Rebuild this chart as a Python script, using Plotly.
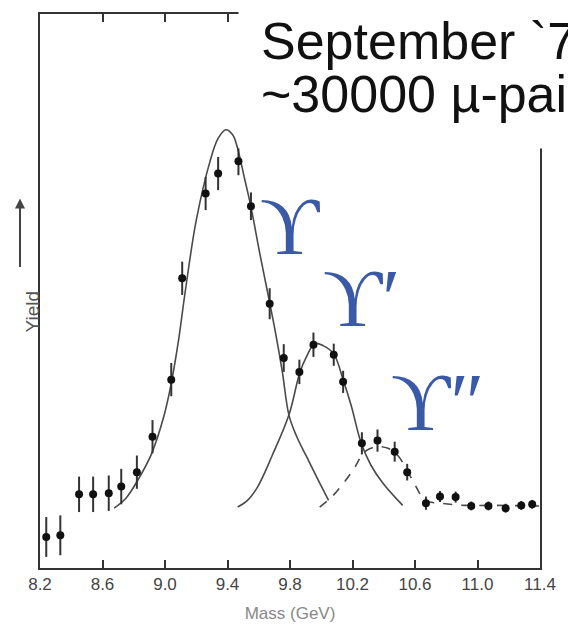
import plotly.graph_objects as go

# ---- data ----
mass = [8.24, 8.33, 8.45, 8.54, 8.64, 8.72, 8.82, 8.92, 9.04, 9.11, 9.26, 9.34,
        9.47, 9.55, 9.67, 9.76, 9.86, 9.95, 10.08, 10.14, 10.26, 10.36, 10.47,
        10.55, 10.67, 10.76, 10.86, 10.96, 11.07, 11.18, 11.28, 11.35]
yield_ = [5.6, 5.9, 13.3, 13.3, 13.5, 14.7, 17.3, 23.7, 34.0, 52.3, 67.6, 71.2,
          73.4, 65.3, 47.7, 37.9, 35.4, 40.3, 38.5, 33.6, 22.5, 23.0, 21.0,
          17.3, 11.7, 12.9, 12.8, 11.2, 11.2, 10.8, 11.3, 11.5]
err = [3.6, 3.6, 3.2, 3.2, 3.2, 3.2, 3.0, 3.0, 3.0, 3.0, 3.0, 3.0,
       2.5, 2.5, 2.8, 2.5, 2.2, 2.2, 2.0, 2.0, 2.0, 2.0, 1.8,
       1.5, 1.2, 1.0, 1.0, 0.8, 0.8, 0.8, 0.8, 0.8]

# Upsilon(1S) fitted curve
c1_x = [8.674, 8.750, 8.833, 8.915, 8.991, 9.035, 9.086, 9.130, 9.199, 9.288,
        9.339, 9.389, 9.433, 9.465, 9.509, 9.547, 9.610, 9.655, 9.705, 9.750,
        9.794, 9.845, 9.908, 9.971, 10.047]
c1_y = [10.8, 12.6, 16.2, 20.7, 27.2, 32.6, 41.0, 50.0, 62.6, 73.4,
        77.5, 79.1, 78.2, 75.7, 70.3, 65.6, 56.3, 50.0, 42.8, 35.6,
        27.5, 23.6, 20.0, 16.4, 12.2]
# Upsilon(2S) fitted curve
c2_x = [9.465, 9.528, 9.592, 9.686, 9.794, 9.863, 9.908, 9.958, 10.015, 10.079,
        10.142, 10.192, 10.256, 10.319, 10.395, 10.521]
c2_y = [11.0, 12.2, 14.6, 20.3, 27.7, 35.3, 38.3, 40.5, 40.1, 38.7,
        33.8, 29.3, 22.5, 18.5, 15.3, 11.3]
# Upsilon(3S) + continuum (dashed)
c3_x = [9.990, 10.066, 10.142, 10.211, 10.275, 10.351, 10.427, 10.490, 10.585,
        10.667, 10.762, 10.920, 11.110, 11.394]
c3_y = [11.0, 12.8, 15.3, 18.0, 20.9, 21.9, 21.6, 20.3, 15.8,
        12.2, 11.7, 11.3, 11.3, 11.2]

tick_vals = [8.2, 8.6, 9.0, 9.4, 9.8, 10.2, 10.6, 11.0, 11.4]
tick_text = ["8.2", "8.6", "9.0", "9.4", "9.8", "10.2", "10.6", "11.0", "11.4"]

curve_col = "#4a4a4a"
fig = go.Figure()
fig.add_trace(go.Scatter(x=c1_x, y=c1_y, mode="lines", line=dict(color=curve_col, width=1.6, shape="spline"), hoverinfo="skip"))
fig.add_trace(go.Scatter(x=c2_x, y=c2_y, mode="lines", line=dict(color=curve_col, width=1.6, shape="spline"), hoverinfo="skip"))
fig.add_trace(go.Scatter(x=c3_x, y=c3_y, mode="lines", line=dict(color=curve_col, width=1.6, shape="spline", dash="dash"), hoverinfo="skip"))
fig.add_trace(go.Scatter(
    x=mass, y=yield_, mode="markers",
    marker=dict(color="#111111", size=8),
    error_y=dict(type="data", array=err, color="#333333", thickness=2, width=0),
))

blue = "#3a5aa8"
sym_font = dict(family="Liberation Serif, DejaVu Serif, serif", size=82, color=blue)
fig.add_annotation(x=9.80, y=61.7, text="ϒ", showarrow=False, font=sym_font)
fig.add_annotation(x=10.26, y=48.7, text="ϒ′", showarrow=False, font=sym_font)
fig.add_annotation(x=10.745, y=29.8, text="ϒ″", showarrow=False, font=sym_font)

# white panel behind the title text
fig.add_shape(type="rect", xref="paper", yref="paper", x0=0.397, x1=1.2, y0=0.757, y1=1.1,
              fillcolor="white", line=dict(width=0), layer="above")

title_font = dict(family="Liberation Sans, Arial, sans-serif", size=52, color="#111111")
fig.add_annotation(xref="paper", yref="paper", x=0.437, y=1.008, xanchor="left", yanchor="top",
                   text="September `77", showarrow=False, font=title_font)
fig.add_annotation(xref="paper", yref="paper", x=0.437, y=0.912, xanchor="left", yanchor="top",
                   text="~30000 µ-pairs", showarrow=False, font=title_font)

# y-axis label with arrow
fig.add_annotation(xref="paper", yref="paper", x=-0.04, y=0.462, text="Yield", textangle=-90,
                   showarrow=False, font=dict(family="Liberation Sans, Arial", size=19, color="#555555"))
fig.add_annotation(xref="paper", yref="paper", x=-0.04, y=0.667, text="", showarrow=True,
                   ax=0, ay=70, arrowhead=2, arrowsize=1, arrowwidth=2, arrowcolor="#444444")

fig.update_layout(
    width=568, height=635,
    margin=dict(l=40, r=22, t=12, b=67),
    paper_bgcolor="white", plot_bgcolor="white",
    showlegend=False,
    xaxis=dict(range=[8.2, 11.4], tickvals=tick_vals, ticktext=tick_text,
               ticks="inside", ticklen=8, tickwidth=2, tickcolor="#333333",
               showline=True, linecolor="#333333", linewidth=2, mirror="ticks",
               showgrid=False, zeroline=False,
               tickfont=dict(family="Liberation Sans, Arial", size=17, color="#444444"),
               title=dict(text="Mass (GeV)", standoff=14,
                          font=dict(family="Liberation Sans, Arial", size=17, color="#888888"))),
    yaxis=dict(range=[0, 100], showticklabels=False, ticks="", showgrid=False, zeroline=False,
               showline=True, linecolor="#333333", linewidth=2, mirror=True),
)

fig.write_html("out.html")
